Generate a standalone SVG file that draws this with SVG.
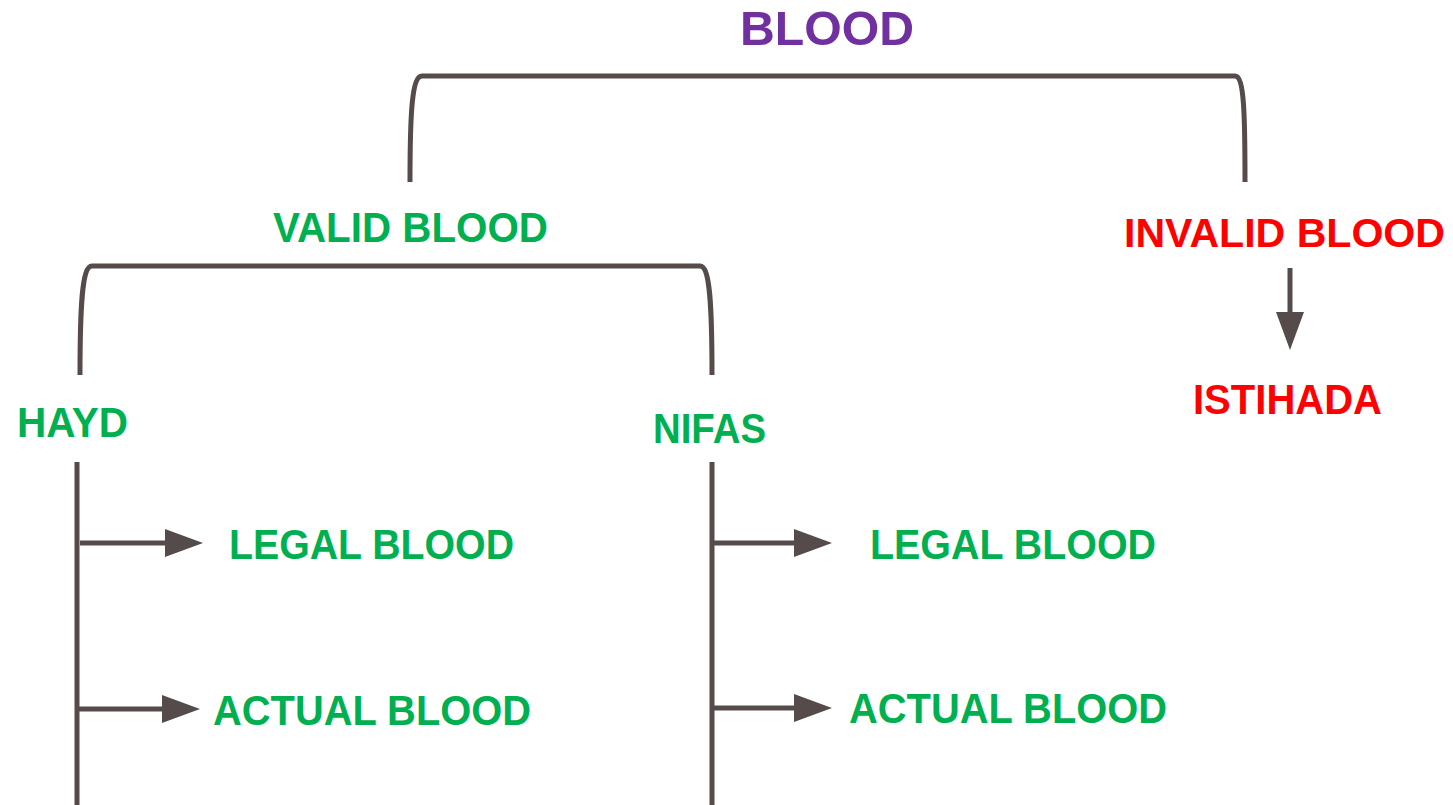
<svg xmlns="http://www.w3.org/2000/svg" width="1453" height="805" viewBox="0 0 1453 805">
<style>
  text { font-family: "Liberation Sans", Arial, sans-serif; font-weight: bold; }
  .g { fill: #00B050; font-size: 43px; }
  .r { fill: #FF0000; font-size: 43px; }
  .p { fill: #7030A0; font-size: 48px; }
  .ln { fill: none; stroke: #564B4B; stroke-width: 5; }
</style>
<defs>
  <marker id="ah" markerUnits="userSpaceOnUse" markerWidth="40" markerHeight="30" refX="24" refY="14" orient="auto" viewBox="0 0 40 28">
    <path d="M0,0 L38,14 L0,28 Z" fill="#564B4B"/>
  </marker>
</defs>
<rect width="1453" height="805" fill="#FFFFFF"/>
<g id="connectors">
  <path class="ln" d="M410,182 C410,112 412,76 422,76 L1235,76 C1244,76 1245,112 1245,182"/>
  <path class="ln" d="M80,375 C80,305 82,266 92,266 L700,266 C710,266 712,305 712,375"/>
  <line class="ln" x1="77" y1="462" x2="77" y2="805"/>
  <line class="ln" x1="712" y1="462" x2="712" y2="805"/>
  <line class="ln" x1="80" y1="543" x2="189" y2="543" marker-end="url(#ah)"/>
  <line class="ln" x1="77" y1="709" x2="186" y2="709" marker-end="url(#ah)"/>
  <line class="ln" x1="712" y1="543" x2="818" y2="543" marker-end="url(#ah)"/>
  <line class="ln" x1="712" y1="708" x2="818" y2="708" marker-end="url(#ah)"/>
  <line class="ln" x1="1290" y1="268" x2="1290" y2="336" marker-end="url(#ah)"/>
</g>
<g id="blood"><text class="p" x="740" y="45" textLength="174" lengthAdjust="spacingAndGlyphs">BLOOD</text></g>
<g id="valid"><text class="g" x="273" y="242" textLength="275" lengthAdjust="spacingAndGlyphs">VALID BLOOD</text></g>
<g id="invalid"><text class="r" x="1124" y="247" style="font-size:41px" textLength="321" lengthAdjust="spacingAndGlyphs">INVALID BLOOD</text></g>
<g id="istihada"><text class="r" x="1193" y="414" textLength="189" lengthAdjust="spacingAndGlyphs">ISTIHADA</text></g>
<g id="hayd"><text class="g" x="17" y="437" textLength="111" lengthAdjust="spacingAndGlyphs">HAYD</text></g>
<g id="nifas"><text class="g" x="653" y="443" textLength="113" lengthAdjust="spacingAndGlyphs">NIFAS</text></g>
<g id="hayd-legal"><text class="g" x="229" y="559" textLength="285" lengthAdjust="spacingAndGlyphs">LEGAL BLOOD</text></g>
<g id="hayd-actual"><text class="g" x="213" y="725" textLength="318" lengthAdjust="spacingAndGlyphs">ACTUAL BLOOD</text></g>
<g id="nifas-legal"><text class="g" x="870" y="559" textLength="286" lengthAdjust="spacingAndGlyphs">LEGAL BLOOD</text></g>
<g id="nifas-actual"><text class="g" x="849" y="723" textLength="318" lengthAdjust="spacingAndGlyphs">ACTUAL BLOOD</text></g>
</svg>
